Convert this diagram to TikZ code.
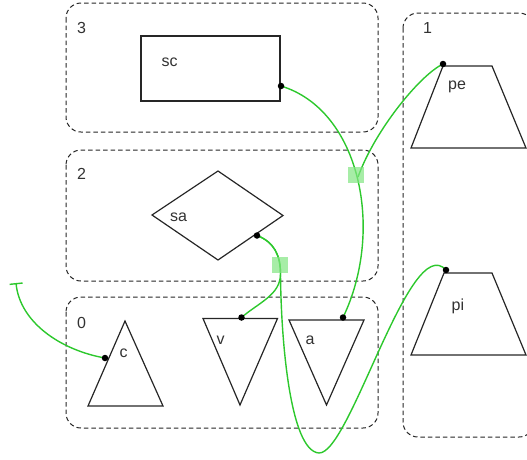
\documentclass[tikz,border=0pt]{standalone}
\usepackage{fontspec}
\setmainfont{Liberation Sans}
\usetikzlibrary{arrows.meta}
\definecolor{edgegreen}{RGB}{45,200,45}
\definecolor{sqgreen}{RGB}{130,230,130}
\definecolor{txt}{RGB}{50,50,50}
\begin{document}
\begin{tikzpicture}[x=1pt,y=-1pt,
  grp/.style={draw=black!85,line width=1pt,dash pattern=on 4.5pt off 3pt,rounded corners=15pt},
  shp/.style={draw=black!85,line width=1.2pt,line join=miter},
  lbl/.style={anchor=base west,inner sep=0pt,text=txt,font=\fontsize{16}{18}\selectfont},
  wire/.style={draw=edgegreen,line width=1.4pt},
  port/.style={circle,fill=black,inner sep=0pt,minimum size=6.5pt},
  handle/.style={fill=sqgreen,fill opacity=0.7,draw=none,inner sep=0pt,minimum size=16pt}]
\useasboundingbox (0,0) rectangle (527,459);
% groups
\draw[grp] (66,3) rectangle (378,132);
\draw[grp] (66,150) rectangle (378,281);
\draw[grp] (66,297) rectangle (378,428);
\draw[grp] (403,13) rectangle (534,437);
\node[lbl] (g3) at (77,33) {3};
\node[lbl] (g2) at (77,179) {2};
\node[lbl] (g0) at (77,328) {0};
\node[lbl] (g1) at (423,33) {1};
% shapes
\draw[shp] (141,36) rectangle (280,101);
\node[lbl] (sclbl) at (161.5,66.5) {sc};
\draw[shp] (152,215) -- (218,171) -- (283,215.5) -- (218,260) -- cycle;
\node[lbl] (salbl) at (170,221.5) {sa};
\draw[shp] (125,321) -- (163,406) -- (88,406) -- cycle;
\node[lbl] (clbl) at (119.5,357.5) {c};
\draw[shp] (203,318.5) -- (277.5,318.5) -- (240,405) -- cycle;
\node[lbl] (vlbl) at (216.5,344) {v};
\draw[shp] (289,320) -- (364,320) -- (326.5,405) -- cycle;
\node[lbl] (albl) at (305.5,344) {a};
\draw[shp] (443,66) -- (492,66) -- (526,148) -- (411,148) -- cycle;
\node[lbl] (pelbl) at (448,89) {pe};
\draw[shp] (444,273) -- (492,273) -- (526,355) -- (411,355) -- cycle;
\node[lbl] (pilbl) at (451.5,310) {pi};
% ports
\coordinate (scp) at (281,86);
\coordinate (sap) at (257,235.5);
\coordinate (cp) at (105,358);
\coordinate (vp) at (241.5,317.5);
\coordinate (ap) at (343,317.5);
\coordinate (pep) at (443,64);
\coordinate (pip) at (446,270);
\coordinate (tee) at (16,283);
\coordinate (merge) at (358,177);
\coordinate (split) at (280.5,274);
% wires
\draw[wire] (scp) .. controls (360,110) and (385,230) .. (ap);
\draw[wire] (pep) .. controls (420,75) and (375,130) .. (merge);
\draw[wire] (sap) .. controls (274,242) and (280.5,255) .. (split)
                  .. controls (280.5,295) and (258,303) .. (vp);
\draw[wire] (sap) .. controls (274,242) and (280.5,255) .. (split)
                  .. controls (281,340) and (290,451) .. (319,453)
                  .. controls (350,454) and (410,230) .. (pip);
\draw[wire,-{Bar[width=13pt,line width=1.4pt]}] (cp) .. controls (60,350) and (20,322) .. (tee);
% handles
\node[handle] (h1) at (356,175) {};
\node[handle] (h2) at (280,264.5) {};
% port dots
\foreach \p in {scp,sap,cp,vp,ap,pep,pip} \node[port] at (\p) {};
\end{tikzpicture}
\end{document}
